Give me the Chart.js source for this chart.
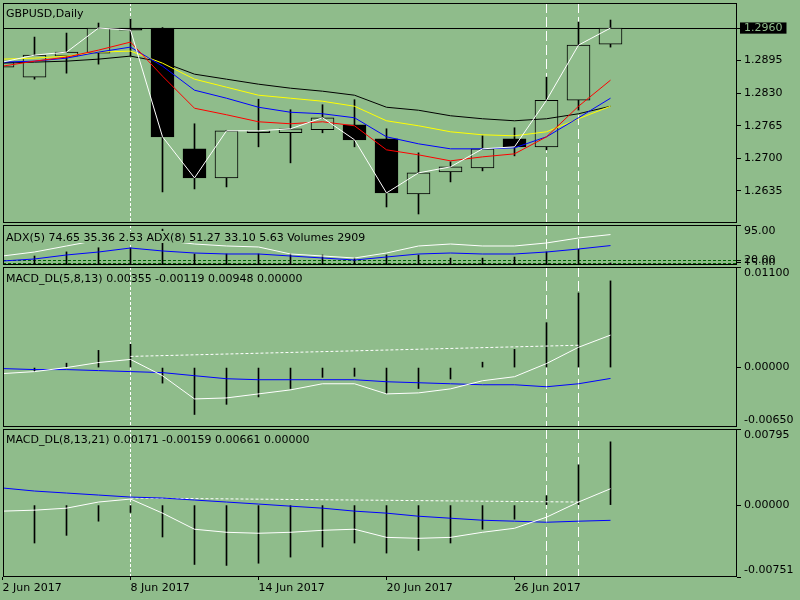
<!DOCTYPE html>
<html>
  <head>
    <title>GBPUSD,Daily</title>
    <style>
      body { margin: 0; background: #8fbc8b; width: 800px; height: 600px; overflow: hidden; position: relative; }
      canvas { position: absolute; left: 0; }
    </style>
    <script src="https://cdn.jsdelivr.net/npm/chart.js"></script>
  </head>
  <body>
    <canvas id="price" width="800" height="220" style="top:3px"></canvas>
    <canvas id="adx" width="800" height="40" style="top:225px"></canvas>
    <canvas id="macd1" width="800" height="160" style="top:267px"></canvas>
    <canvas id="macd2" width="800" height="171" style="top:429px"></canvas>

    <script>
      // --- price pane (daily bars 2 Jun .. 29 Jun 2017)
      var openP  = [1.2882, 1.2862, 1.2904, 1.2910, 1.2960, 1.2960, 1.2719, 1.2661, 1.2751, 1.2751, 1.2757, 1.2767, 1.2739, 1.2629, 1.2673, 1.2681, 1.2739, 1.2723, 1.2816, 1.2928];
      var highP  = [1.2896, 1.2942, 1.2950, 1.2970, 1.2978, 1.2961, 1.2769, 1.2756, 1.2818, 1.2797, 1.2807, 1.2817, 1.2759, 1.2711, 1.2693, 1.2745, 1.2761, 1.2862, 1.2972, 1.2976];
      var lowP   = [1.2878, 1.2858, 1.2870, 1.2888, 1.2904, 1.2633, 1.2639, 1.2643, 1.2723, 1.2691, 1.2751, 1.2723, 1.2603, 1.2589, 1.2653, 1.2675, 1.2705, 1.2717, 1.2796, 1.2922];
      var closeP = [1.2892, 1.2906, 1.2912, 1.2960, 1.2956, 1.2743, 1.2661, 1.2755, 1.2755, 1.2759, 1.2781, 1.2737, 1.2631, 1.2671, 1.2683, 1.2719, 1.2723, 1.2816, 1.2926, 1.2960];

      var maRed    = [1.2884, 1.2894, 1.2902, 1.2916, 1.2932, 1.2864, 1.2800, 1.2787, 1.2773, 1.2769, 1.2773, 1.2765, 1.2717, 1.2707, 1.2695, 1.2703, 1.2709, 1.2743, 1.2804, 1.2856];
      var maBlue   = [1.2892, 1.2894, 1.2900, 1.2912, 1.2922, 1.2884, 1.2836, 1.2820, 1.2802, 1.2792, 1.2789, 1.2781, 1.2743, 1.2729, 1.2719, 1.2719, 1.2721, 1.2743, 1.2781, 1.2820];
      var maYellow = [1.2898, 1.2900, 1.2904, 1.2912, 1.2914, 1.2890, 1.2858, 1.2842, 1.2826, 1.2820, 1.2814, 1.2804, 1.2775, 1.2765, 1.2753, 1.2747, 1.2745, 1.2753, 1.2779, 1.2804];
      var maBlack  = [1.2890, 1.2892, 1.2894, 1.2898, 1.2904, 1.2892, 1.2868, 1.2858, 1.2848, 1.2840, 1.2834, 1.2826, 1.2802, 1.2796, 1.2785, 1.2779, 1.2775, 1.2779, 1.2789, 1.2804];

      var bidPrice = 1.2960;
      var priceTicks = [1.2635, 1.2700, 1.2765, 1.2830, 1.2895, 1.2960];
      var priceMin = 1.2571, priceMax = 1.3010;

      // --- ADX / volumes pane
      var adx5 = [29.1, 37.6, 50.4, 63.0, 70.0, 62.0, 54.6, 50.4, 48.3, 33.4, 29.1, 24.9, 35.5, 50.4, 54.6, 50.4, 50.4, 56.8, 67.4, 74.65];
      var adx8 = [18.5, 22.8, 31.3, 37.6, 46.1, 39.8, 35.5, 33.4, 33.4, 29.1, 24.9, 20.6, 27.0, 33.4, 35.5, 33.4, 33.4, 37.6, 44.0, 51.27];
      var volumes = [12000, 13000, 19000, 25000, 25000, 52000, 16000, 16000, 16000, 16000, 14500, 10000, 14500, 14500, 10000, 10000, 11500, 19000, 23000, 2909];
      var adxLevels = [20, 15];
      var adxTicks = [95, 20, 15];
      var adxMin = 10, adxMax = 95, volMax = 58000;

      // --- MACD_DL(5,8,13)
      var macd1Main   = [-0.00066, -0.00044, 0.00000, 0.00055, 0.00089, -0.00089, -0.00343, -0.00332, -0.00288, -0.00244, -0.00177, -0.00177, -0.00288, -0.00277, -0.00233, -0.00144, -0.00100, 0.00044, 0.00222, 0.00355];
      var macd1Signal = [-0.00011, -0.00022, -0.00022, -0.00033, -0.00044, -0.00055, -0.00089, -0.00122, -0.00133, -0.00133, -0.00133, -0.00133, -0.00155, -0.00166, -0.00177, -0.00188, -0.00188, -0.00210, -0.00177, -0.00119];
      var macd1Hist   = [-0.00110, -0.00044, 0.00048, 0.00188, 0.00255, -0.00170, -0.00513, -0.00402, -0.00321, -0.00229, -0.00107, -0.00096, -0.00284, -0.00229, -0.00125, 0.00059, 0.00199, 0.00491, 0.00816, 0.00948];
      var macd1TrendX = [4, 18];
      var macd1TrendY = [0.00122, 0.00244];
      var macd1Ticks = [0.011, 0, -0.0065];
      var macd1Min = -0.0065, macd1Max = 0.011;

      // --- MACD_DL(8,13,21)
      var macd2Main   = [-0.00063, -0.00053, -0.00032, 0.00032, 0.00063, -0.00084, -0.00252, -0.00284, -0.00294, -0.00284, -0.00263, -0.00252, -0.00337, -0.00347, -0.00337, -0.00284, -0.00242, -0.00126, 0.00032, 0.00171];
      var macd2Signal = [0.00179, 0.00147, 0.00126, 0.00105, 0.00084, 0.00074, 0.00053, 0.00032, 0.00011, -0.00011, -0.00032, -0.00063, -0.00084, -0.00116, -0.00137, -0.00158, -0.00168, -0.00179, -0.00168, -0.00159];
      var macd2Hist   = [-0.00480, -0.00396, -0.00316, -0.00168, -0.00077, -0.00333, -0.00620, -0.00630, -0.00607, -0.00543, -0.00438, -0.00396, -0.00501, -0.00473, -0.00396, -0.00252, -0.00147, 0.00098, 0.00421, 0.00661];
      var macd2TrendX = [4, 18];
      var macd2TrendY = [0.00074, 0.00032];
      var macd2Ticks = [0.00795, 0, -0.00751];
      var macd2Min = -0.00751, macd2Max = 0.00795;

      // --- time axis and separators (bar indexes)
      var dateTicks = [0, 4, 8, 12, 16];
      var dateLabels = ["2 Jun 2017", "8 Jun 2017", "14 Jun 2017", "20 Jun 2017", "26 Jun 2017"];
      var sepFine = [4];
      var sepLong = [17, 18];

      var BG = "#8fbc8b";
      // 32px per bar, chart area 734px wide
      var X_MIN = 1 / 64, X_MAX = 1 / 64 + 734 / 32;

      Chart.defaults.font.family = "DejaVu Sans";
      Chart.defaults.font.size = 11;
      Chart.defaults.color = "#000";

      function pts(arr) {
        return arr.map(function (v, i) { return { x: i, y: v }; });
      }

      function lineSet(arr, color, order, axis) {
        return {
          type: "line", data: pts(arr), borderColor: color, borderWidth: 1,
          pointRadius: 0, tension: 0, order: order, yAxisID: axis || "y"
        };
      }

      function stickSet(arr, axis, order) {
        return {
          type: "bar", data: pts(arr), backgroundColor: "#000", borderWidth: 0,
          barThickness: 1, grouped: false, order: order, yAxisID: axis || "y"
        };
      }

      function edgeLabel(dec, min, max) {
        return function (v) {
          var t = v.toFixed(dec);
          if (v === max) return ["", t];
          if (v === min) return [t, ""];
          return t;
        };
      }

      function rightAxis(min, max, tickVals, fmt) {
        return {
          position: "right", min: min, max: max,
          afterBuildTicks: function (s) { s.ticks = tickVals.map(function (v) { return { value: v }; }); },
          afterFit: function (s) { s.width = 63; s.paddingTop = 0; s.paddingBottom = 0; },
          grid: { drawOnChartArea: false, tickLength: 4, tickColor: "#000" },
          border: { display: false },
          ticks: { padding: 3, autoSkip: false, callback: fmt }
        };
      }

      function hiddenX() {
        return { type: "linear", display: false, min: X_MIN, max: X_MAX, offset: false };
      }

      function panePlugin(cfg) {
        return {
          id: "pane",
          beforeDatasetsDraw: function (chart) {
            var ctx = chart.ctx, a = chart.chartArea, xs = chart.scales.x, ys = chart.scales.y;
            ctx.save();
            ctx.lineWidth = 1;
            ctx.strokeStyle = "#fff";
            sepFine.forEach(function (v) {
              var px = xs.getPixelForValue(v);
              ctx.setLineDash([3, 2]);
              ctx.beginPath(); ctx.moveTo(px, a.top); ctx.lineTo(px, a.bottom); ctx.stroke();
            });
            sepLong.forEach(function (v) {
              var px = xs.getPixelForValue(v);
              ctx.setLineDash([10, 4]);
              ctx.beginPath(); ctx.moveTo(px, a.top); ctx.lineTo(px, a.bottom); ctx.stroke();
            });
            if (cfg.levels) {
              ctx.strokeStyle = "#006400";
              ctx.setLineDash([3, 2]);
              cfg.levels.forEach(function (v) {
                var py = Math.round(ys.getPixelForValue(v)) + 0.5;
                ctx.beginPath(); ctx.moveTo(a.left, py); ctx.lineTo(a.right, py); ctx.stroke();
              });
            }
            if (cfg.bid) {
              ctx.strokeStyle = "#000";
              ctx.setLineDash([]);
              var by = Math.round(ys.getPixelForValue(cfg.bid)) + 0.5;
              ctx.beginPath(); ctx.moveTo(a.left, by); ctx.lineTo(a.right, by); ctx.stroke();
            }
            ctx.restore();
          },
          afterDatasetsDraw: function (chart) {
            var ctx = chart.ctx, a = chart.chartArea;
            ctx.save();
            ctx.setLineDash([]);
            ctx.strokeStyle = "#000";
            ctx.lineWidth = 1;
            ctx.strokeRect(a.left + 0.5, a.top + 0.5, a.right - a.left - 1, a.bottom - a.top - 1);
            ctx.font = "11px 'DejaVu Sans'";
            ctx.textBaseline = "alphabetic";
            var tx = a.left + 3, ty = a.top + cfg.titleY;
            if (cfg.titleBg) {
              ctx.fillStyle = BG;
              ctx.fillRect(tx - 1, ty - 10, ctx.measureText(cfg.title).width + 2, 12);
            }
            ctx.fillStyle = "#000";
            ctx.fillText(cfg.title, tx, ty);
            ctx.restore();
          }
        };
      }

      var common = {
        responsive: false, animation: false, events: [],
        plugins: { legend: { display: false }, tooltip: { enabled: false } }
      };

      function opts(scales, padLeft) {
        return Object.assign({}, common, { layout: { padding: { left: padLeft || 3 } }, scales: scales });
      }

      // ---------------- price pane
      new Chart(document.getElementById("price"), {
        type: "bar",
        data: {
          datasets: [
            {
              type: "bar", order: 11, grouped: false, barThickness: 1,
              data: lowP.map(function (v, i) { return { x: i, y: [v, highP[i]] }; }),
              backgroundColor: "#000", borderWidth: 0
            },
            {
              type: "bar", order: 10, grouped: false, barThickness: 23, minBarLength: 2,
              data: openP.map(function (v, i) { return { x: i, y: [v, closeP[i]] }; }),
              backgroundColor: function (c) { return closeP[c.dataIndex] >= openP[c.dataIndex] ? BG : "#000"; },
              borderColor: "#000", borderWidth: 1, borderSkipped: false
            },
            lineSet(maBlack, "#000", 5),
            lineSet(maYellow, "#ffff00", 4),
            lineSet(maBlue, "#0000ff", 3),
            lineSet(maRed, "#ff0000", 2),
            lineSet(closeP, "#fff", 1)
          ]
        },
        options: opts({
          x: hiddenX(),
          y: (function () {
            var ax = rightAxis(priceMin, priceMax, priceTicks, function (v) { return v.toFixed(4); });
            ax.ticks.color = function (c) { return c.tick && c.tick.value === bidPrice ? BG : "#000"; };
            ax.ticks.showLabelBackdrop = function (c) { return !!(c.tick && c.tick.value === bidPrice); };
            ax.ticks.backdropColor = "#000";
            ax.ticks.backdropPadding = { x: 4, y: -1 };
            return ax;
          })()
        }),
        plugins: [panePlugin({ title: "GBPUSD,Daily", titleY: 14, bid: bidPrice })]
      });

      // ---------------- ADX + volumes pane
      new Chart(document.getElementById("adx"), {
        type: "bar",
        data: {
          datasets: [
            stickSet(volumes, "yv", 5),
            lineSet(adx8, "#0000ff", 2),
            lineSet(adx5, "#fff", 1)
          ]
        },
        options: opts({
          x: hiddenX(),
          y: rightAxis(adxMin, adxMax, adxTicks, edgeLabel(2, adxMin, adxMax)),
          yv: { display: false, min: 0, max: volMax }
        }),
        plugins: [panePlugin({
          title: "ADX(5) 74.65 35.36 2.53 ADX(8) 51.27 33.10 5.63 Volumes 2909",
          titleY: 16, titleBg: true, levels: adxLevels
        })]
      });

      // ---------------- MACD panes
      function trendSet(xs, ys) {
        return {
          type: "line", data: xs.map(function (x, i) { return { x: x, y: ys[i] }; }),
          borderColor: "#fff", borderWidth: 1, borderDash: [3, 2], pointRadius: 0, order: 4
        };
      }

      new Chart(document.getElementById("macd1"), {
        type: "bar",
        data: {
          datasets: [
            stickSet(macd1Hist, "y", 5),
            trendSet(macd1TrendX, macd1TrendY),
            lineSet(macd1Signal, "#0000ff", 2),
            lineSet(macd1Main, "#fff", 1)
          ]
        },
        options: opts({
          x: hiddenX(),
          y: rightAxis(macd1Min, macd1Max, macd1Ticks, edgeLabel(5, macd1Min, macd1Max))
        }),
        plugins: [panePlugin({ title: "MACD_DL(5,8,13) 0.00355 -0.00119 0.00948 0.00000", titleY: 15 })]
      });

      new Chart(document.getElementById("macd2"), {
        type: "bar",
        data: {
          datasets: [
            stickSet(macd2Hist, "y", 5),
            trendSet(macd2TrendX, macd2TrendY),
            lineSet(macd2Signal, "#0000ff", 2),
            lineSet(macd2Main, "#fff", 1)
          ]
        },
        options: opts({
          x: {
            type: "linear", position: "bottom", min: X_MIN, max: X_MAX, offset: false,
            afterBuildTicks: function (s) { s.ticks = dateTicks.map(function (v) { return { value: v }; }); },
            afterFit: function (s) { s.height = 23; s.paddingLeft = 0; s.paddingRight = 0; },
            grid: { drawOnChartArea: false, offset: false, tickLength: 3, tickColor: "#000" },
            border: { display: false },
            ticks: {
              align: "start", maxRotation: 0, autoSkip: false, padding: 2,
              callback: function (v) { return dateLabels[dateTicks.indexOf(v)]; }
            }
          },
          y: rightAxis(macd2Min, macd2Max, macd2Ticks, edgeLabel(5, macd2Min, macd2Max))
        }),
        plugins: [panePlugin({ title: "MACD_DL(8,13,21) 0.00171 -0.00159 0.00661 0.00000", titleY: 14 })]
      });
    </script>
  </body>
</html>
